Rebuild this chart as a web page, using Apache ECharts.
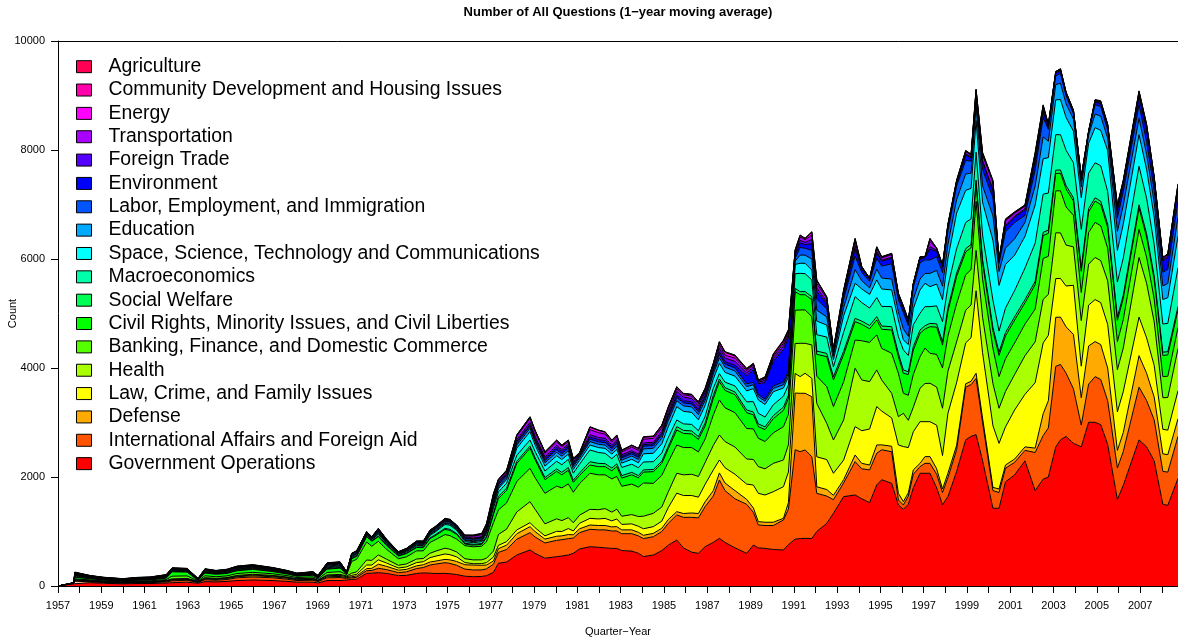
<!DOCTYPE html>
<html><head><meta charset="utf-8">
<script src="https://cdn.jsdelivr.net/npm/echarts@6/dist/echarts.min.js"></script>
<style>html,body{margin:0;padding:0;background:#fff}#c{width:1178px;height:641px}</style>
</head><body><div id="c"></div>
<script>
// Quarter-year positions (decimal years)
const years = [
1957.00,1957.72,1957.78,1958.50,1959.10,1960.00,1960.65,1961.25,1962.00,1962.27,1962.96,1963.47,1963.79,1964.30,1964.81,1965.27,1966.00,1966.93,1967.58,1968.04,1968.78,1969.01,1969.43,1970.03,
1970.34,1970.57,1970.80,1971.26,1971.50,1971.80,1972.19,1972.73,1973.10,1973.57,1973.88,1974.19,1974.42,1974.88,1975.11,1975.42,1975.80,1976.19,1976.58,1976.80,1977.12,
1977.35,1977.73,1978.20,1978.81,1979.04,1979.50,1980.04,1980.28,1980.58,1980.81,1981.10,1981.58,1981.97,1982.28,1982.59,1982.82,1983.05,1983.51,1983.82,1984.05,1984.51,1984.90,1985.20,
1985.59,1985.90,1986.28,1986.59,1986.90,1987.28,1987.56,1987.82,1988.28,1988.82,1989.13,1989.36,1989.67,1990.05,1990.52,1990.75,1991.06,
1991.29,1991.52,1991.83,1992.06,1992.52,1992.83,1993.30,1993.83,1994.14,1994.50,1994.83,1995.06,1995.52,1995.83,1996.06,1996.29,1996.52,1996.83,1997.06,1997.29,1997.60,1997.87,1998.12,1998.52,
1998.94,1999.19,1999.42,1999.72,2000.20,2000.48,2000.78,2001.20,2001.68,2002.15,2002.52,2002.76,2003.10,2003.32,2003.58,
2003.92,2004.28,2004.62,2004.92,2005.18,2005.50,2005.95,2006.22,2006.95,2007.30,2007.65,2008.05,2008.28,2008.75];

const governmentOperations = [
0,40,70,60,50,40,45,45,55,60,70,50,80,75,85,100,110,100,85,70,70,55,100,100,
110,120,125,232,235,245,230,190,195,230,240,235,230,232,225,210,180,171,175,190,250,
416,440,569,661,600,510,538,550,569,600,680,721,710,700,690,690,650,640,600,540,569,650,750,
844,700,620,600,722,800,875,800,700,600,752,700,690,670,661,760,860,
870,875,870,1000,1150,1334,1640,1670,1600,1530,1853,1950,1884,1487,1407,1500,1800,2068,2068,2068,1800,1492,1640,2100,
2681,2745,2778,2300,1426,1426,1910,2039,2296,1750,1960,2000,2550,2681,2745,
2617,2553,3004,3004,2960,2600,1587,1844,2681,2553,2296,1500,1480,1974];
const internationalAffairs = [
0,10,20,15,15,12,15,15,20,35,35,15,35,30,35,50,55,50,40,30,35,25,50,55,
30,30,35,49,50,80,70,55,65,90,100,150,170,196,190,170,130,123,120,125,150,
200,230,290,318,300,280,300,300,300,280,300,319,320,330,320,320,310,320,320,330,336,350,400,
460,560,640,650,734,850,1070,950,900,900,600,420,420,440,550,650,1640,
1595,1621,1504,700,500,250,250,612,550,600,582,550,580,91,80,150,250,122,183,183,250,224,350,400,
967,950,1030,700,323,290,250,230,192,700,800,900,1480,1385,1160,
1000,400,700,837,830,800,580,620,967,850,750,603,610,771];
const defense = [
0,2,10,10,8,8,8,10,12,15,15,8,15,15,15,20,22,20,18,15,15,12,20,20,
15,20,25,38,40,75,60,45,45,50,50,55,55,60,65,70,80,90,85,70,60,
70,80,100,110,100,70,75,70,75,60,70,79,80,80,75,80,70,70,65,60,61,60,70,
60,70,80,80,90,100,130,140,150,90,80,60,60,60,31,120,1040,
1071,1040,1100,120,120,80,60,122,100,90,153,90,100,122,61,60,80,60,123,123,100,64,80,80,
62,62,97,80,60,64,60,60,65,80,400,500,900,868,850,
1000,501,700,644,640,600,321,350,578,500,420,321,320,323];
const lawCrime = [
0,1,8,7,6,5,7,7,8,10,10,6,12,10,10,12,14,12,12,10,12,8,18,20,
15,25,30,66,60,80,60,40,45,60,55,80,90,100,95,85,40,25,30,45,70,
60,65,70,73,70,60,90,80,110,70,100,123,120,130,110,140,100,110,110,120,123,130,220,
340,330,320,300,320,380,237,280,300,280,420,520,500,560,580,560,360,
306,367,337,550,550,404,360,520,600,660,703,620,520,888,1010,830,700,765,641,641,800,613,1100,1150,
750,800,1512,1200,1131,837,700,900,965,1200,1300,1200,710,709,750,
900,579,750,771,770,800,709,750,708,650,580,451,450,514];
const health = [
0,1,8,7,6,5,6,7,8,10,10,5,10,10,10,12,14,12,10,10,10,8,15,18,
15,40,45,92,85,90,70,50,55,65,60,80,90,105,100,90,70,70,70,80,110,
200,230,330,385,340,220,230,200,200,150,150,165,170,180,160,180,150,170,180,230,245,260,290,
364,380,390,380,400,450,459,480,500,460,470,490,480,520,490,500,550,
611,550,612,980,665,611,736,1071,930,870,673,570,452,519,611,500,450,613,700,705,700,868,770,750,
600,600,740,650,772,644,650,650,708,750,800,750,840,836,750,
705,837,750,772,770,800,772,800,1094,1000,800,579,600,773];
const bankingFinance = [
0,1,15,12,10,8,10,10,15,50,45,10,35,30,30,35,35,30,25,20,25,18,45,50,
25,215,230,330,260,250,180,120,130,150,140,200,210,250,250,235,240,240,250,300,520,
450,480,560,612,580,560,600,600,620,560,580,661,640,620,610,600,550,560,540,610,550,580,550,
519,500,490,450,430,560,642,620,630,560,560,520,500,560,611,560,610,
612,612,520,500,673,612,700,519,720,720,642,580,734,796,367,460,600,580,650,550,600,740,650,700,
650,650,902,700,643,580,600,580,580,600,750,700,770,773,700,
579,516,580,644,640,600,516,520,516,480,420,387,390,386];
const civilRights = [
0,1,30,20,15,12,15,17,25,80,70,10,50,45,45,50,55,40,30,25,30,20,60,65,
10,50,53,98,90,85,70,50,60,60,60,70,75,95,95,85,30,30,35,80,150,
210,230,330,368,330,250,270,240,250,180,150,152,150,150,150,180,150,170,170,200,214,220,240,
276,260,250,230,240,300,336,320,330,290,260,213,220,260,300,290,340,
280,280,310,400,550,490,500,337,300,250,275,350,428,305,368,380,450,429,350,488,500,420,450,500,
420,400,326,300,326,389,420,420,390,450,420,420,320,321,330,
262,389,380,391,390,380,389,390,390,370,360,389,390,326];
const socialWelfare = [
0,0,10,8,6,5,6,6,8,10,9,4,10,9,9,10,10,9,8,7,8,6,12,12,
5,10,10,12,10,15,12,10,10,12,12,15,18,20,20,18,15,15,15,20,30,
40,40,40,40,40,40,45,45,50,40,45,60,60,55,50,50,45,45,40,40,40,40,45,
60,55,55,50,55,60,50,50,50,50,50,50,50,55,60,60,60,
56,56,57,60,60,60,60,60,60,60,60,60,60,60,60,50,60,60,60,60,60,60,60,60,
60,60,60,60,60,60,60,60,60,60,60,60,60,60,60,
60,60,60,60,60,60,60,60,60,60,60,60,60,60];
const macroeconomics = [
0,0,15,10,8,7,8,8,10,12,10,5,12,10,11,12,12,10,9,8,9,7,15,15,
8,20,22,22,20,30,25,18,20,25,25,45,50,70,75,60,30,30,35,50,90,
80,90,110,112,110,120,140,140,150,130,160,216,200,190,170,175,150,150,145,145,143,150,160,
123,120,120,110,120,130,97,100,110,150,190,195,180,200,200,190,270,
336,330,305,300,300,180,350,399,340,320,350,360,368,308,368,300,400,307,351,308,330,370,400,450,
480,470,515,450,500,387,450,480,579,700,700,680,650,648,650,
643,709,650,643,650,600,644,680,708,650,580,516,520,708];
const spaceScience = [
0,1,10,8,7,6,7,7,8,8,8,5,10,9,10,10,10,9,8,7,8,6,15,15,
6,15,15,12,12,15,12,10,12,15,15,18,18,20,20,18,20,20,22,30,50,
60,70,130,153,120,90,100,95,95,70,70,91,90,90,85,90,80,90,90,150,154,170,200,
244,230,220,200,200,170,191,180,180,200,240,245,230,240,150,150,170,
184,190,183,250,220,130,300,244,250,250,324,320,306,306,184,200,300,428,428,367,400,400,515,650,
589,560,579,600,1100,837,800,650,580,700,650,650,640,644,600,
580,579,550,644,650,750,579,620,579,530,500,450,470,580];
const education = [
0,1,10,7,6,5,6,7,8,8,8,4,10,9,10,10,10,9,8,7,8,6,15,15,
6,15,15,10,10,15,12,10,12,12,12,14,15,15,15,14,15,15,15,20,30,
30,35,55,60,55,60,65,60,65,50,45,62,60,60,55,60,55,60,60,90,92,100,110,
110,100,100,95,90,90,100,95,95,80,70,60,60,60,60,60,60,
150,150,200,200,150,70,150,250,150,120,200,200,200,150,200,150,170,200,180,244,250,250,250,250,
300,280,257,300,450,257,300,300,257,350,400,300,280,300,250,
220,200,150,250,260,230,350,350,300,280,270,250,260,350];
const laborEmployment = [
0,1,10,8,7,6,7,8,10,10,10,5,12,10,12,14,14,12,10,9,10,8,18,18,
8,20,20,15,14,20,18,12,15,18,18,22,22,25,25,22,25,25,27,35,50,
40,40,40,40,40,40,45,45,45,35,30,45,45,45,45,45,40,40,40,50,50,55,60,
60,55,55,55,55,55,60,55,55,50,45,40,40,45,50,50,50,
140,125,160,200,150,60,150,250,150,120,200,220,280,220,300,200,220,300,250,245,250,250,250,250,
250,220,129,300,330,150,300,300,129,300,350,220,160,180,150,
100,120,50,170,180,150,250,250,250,230,220,250,260,300];
const environment = [
0,0,5,4,3,3,3,3,4,4,4,2,4,4,4,5,5,4,4,3,4,3,8,8,
3,5,5,6,6,8,7,4,5,7,7,8,9,10,10,10,12,12,12,15,25,
25,25,30,30,30,35,40,40,40,30,25,40,40,40,35,35,30,30,30,30,30,35,40,
40,40,40,40,40,40,50,45,50,150,230,200,300,450,600,600,60,
80,70,120,150,90,30,80,130,60,40,90,90,100,70,80,70,50,70,40,200,100,100,80,50,
100,60,100,150,130,40,100,100,100,150,120,50,50,50,30,
30,40,10,50,50,60,140,120,150,216,200,200,220,200];
const foreignTrade = [
0,0,10,5,4,3,4,4,5,6,5,3,6,5,6,6,7,6,5,4,5,4,10,10,
3,5,5,6,5,10,8,5,7,10,10,10,10,10,10,10,15,15,15,25,30,
25,25,35,40,35,35,40,35,35,25,15,40,40,40,35,35,30,30,30,30,30,40,50,
70,65,60,60,60,50,70,65,70,50,50,30,40,50,60,60,40,
50,40,80,60,40,15,30,60,20,10,30,20,20,15,10,10,8,10,5,40,20,15,15,15,
20,15,20,20,20,10,20,20,20,30,30,15,10,12,10,
10,8,4,10,10,10,25,20,25,25,20,25,25,40];
const transportation = [
0,0,10,5,4,4,5,5,5,7,6,3,7,6,7,8,8,7,6,5,6,4,10,10,
4,5,6,5,5,22,12,6,8,12,12,13,14,15,15,12,20,32,38,35,50,
34,30,62,75,83,65,66,57,45,35,17,94,88,77,54,56,51,62,67,70,70,64,65,
50,45,45,45,40,40,60,55,60,40,40,20,30,40,50,50,30,
60,50,80,80,60,15,40,80,20,5,60,40,50,20,20,15,10,20,8,100,30,20,20,20,
40,30,40,100,130,15,80,50,50,80,50,15,10,12,10,
10,10,4,15,15,20,45,45,40,40,20,30,30,40];
const energy = [
0,0,5,2,2,2,2,2,3,3,3,2,3,3,3,4,4,3,3,2,3,2,5,5,
0,2,3,2,1,8,5,2,3,5,5,6,6,8,8,5,6,10,10,12,15,
10,10,15,20,20,20,25,20,20,18,5,45,40,35,25,25,25,30,30,35,35,40,30,
30,20,25,25,25,8,50,50,40,25,20,10,20,30,40,30,20,
30,20,50,50,20,5,15,40,5,3,20,15,15,10,8,3,3,5,3,40,5,5,5,10,
10,10,15,20,20,5,15,12,10,25,20,6,8,8,10,
10,4,2,10,10,8,12,10,20,20,8,10,10,20];
const communityDevelopment = [
0,0,5,2,2,2,2,2,3,3,3,2,3,3,3,4,4,3,3,2,3,2,5,5,
0,1,2,1,1,7,3,1,2,2,2,4,4,5,3,3,4,8,8,10,10,
5,5,5,5,5,5,5,5,5,5,3,5,5,5,5,5,5,5,5,5,5,5,5,
5,4,5,5,5,2,4,7,10,10,5,5,10,10,10,10,5,
5,2,7,10,6,2,5,10,2,1,6,4,4,2,3,2,2,3,2,10,3,3,3,5,
8,8,10,15,12,5,12,8,7,20,10,4,1,2,5,
3,2,1,5,10,4,8,8,10,15,3,4,3,8];
const agriculture = [
0,0,5,2,2,2,2,2,2,3,3,2,3,3,3,3,3,3,2,2,3,2,5,5,
0,2,2,1,1,3,3,2,2,3,3,3,3,6,2,2,4,5,5,8,10,
5,4,5,5,5,5,5,5,5,5,5,5,5,5,5,5,5,5,5,5,5,5,5,
2,2,2,7,2,2,2,8,9,10,5,2,11,10,11,8,5,
5,2,7,5,5,2,4,6,2,1,6,4,4,2,3,1,1,3,3,8,2,2,2,5,
5,7,8,15,12,4,10,7,6,15,9,4,1,2,4,
3,2,1,5,10,2,7,8,10,5,2,3,2,7];

// Stack order: bottom to top
const topicNames = [
'Government Operations','International Affairs and Foreign Aid','Defense','Law, Crime, and Family Issues',
'Health','Banking, Finance, and Domestic Commerce','Civil Rights, Minority Issues, and Civil Liberties',
'Social Welfare','Macroeconomics','Space, Science, Technology and Communications','Education',
'Labor, Employment, and Immigration','Environment','Foreign Trade','Transportation','Energy',
'Community Development and Housing Issues','Agriculture'];
const topicColors = ['#FF0000','#FF5500','#FFAA00','#FFFF00','#AAFF00','#55FF00','#00FF00','#00FF55','#00FFAA',
'#00FFFF','#00AAFF','#0055FF','#0000FF','#5500FF','#AA00FF','#FF00FF','#FF00AA','#FF0055'];
const topicValues = [governmentOperations, internationalAffairs, defense, lawCrime, health, bankingFinance,
civilRights, socialWelfare, macroeconomics, spaceScience, education, laborEmployment, environment,
foreignTrade, transportation, energy, communityDevelopment, agriculture];

const FONT = '"Liberation Sans", Arial, Helvetica, sans-serif';
const chart = echarts.init(document.getElementById('c'), null, {renderer: 'canvas'});

// data rows are [value, year]; encode maps them so the value column is the stacked one
const series = topicNames.map((name, i) => ({
  name: name, type: 'line', stack: 'all', symbol: 'none', showSymbol: false,
  silent: true, animation: false,
  data: years.map((y, j) => [topicValues[i][j], y]),
  encode: {x: 1, y: 0},
  lineStyle: {color: '#000', width: 1},
  areaStyle: {color: topicColors[i], opacity: 1},
  emphasis: {disabled: true}
}));

const legendData = topicNames.map((n, i) => ({
  name: n,
  itemStyle: {color: topicColors[i], borderColor: '#000', borderWidth: 1}
})).reverse();

chart.setOption({
  animation: false,
  backgroundColor: '#fff',
  title: {
    text: 'Number of All Questions (1\u2212year moving average)',
    left: 618, top: 6, textAlign: 'center', padding: 0,
    textStyle: {fontFamily: FONT, fontSize: 13, fontWeight: 'bold', color: '#000'}
  },
  grid: {left: 58, right: 0, top: 41, bottom: 55, containLabel: false, outerBoundsMode: 'none'},
  legend: {
    orient: 'vertical', left: 76, top: 55, padding: 0, itemGap: 0,
    itemWidth: 15, itemHeight: 12, icon: 'rect', selectedMode: false,
    textStyle: {fontFamily: FONT, fontSize: 19.4, color: '#000', lineHeight: 23.35, padding: [0, 0, 0, 12]},
    data: legendData
  },
  xAxis: [{
    type: 'value', min: 1957, max: 2008.75, interval: 1,
    axisLine: {show: true, onZero: false, lineStyle: {color: '#000', width: 1}},
    axisTick: {show: true, length: 7, lineStyle: {color: '#000'}},
    axisLabel: {color: '#000', fontSize: 11, margin: 14, fontFamily: FONT,
      formatter: v => (Number.isInteger(v) && (v - 1957) % 2 === 0) ? String(v) : ''},
    splitLine: {show: false},
    name: 'Quarter\u2212Year', nameLocation: 'middle', nameGap: 40, nameMoveOverlap: false,
    nameTextStyle: {color: '#000', fontSize: 11, fontFamily: FONT}
  }, {
    type: 'value', position: 'top', min: 1957, max: 2008.75,
    axisLine: {show: true, onZero: false, lineStyle: {color: '#000', width: 1}},
    axisTick: {show: false}, axisLabel: {show: false}, splitLine: {show: false}
  }],
  yAxis: {
    type: 'value', min: 0, max: 10000, interval: 2000,
    axisLine: {show: true, lineStyle: {color: '#000', width: 1}},
    axisTick: {show: true, length: 7, lineStyle: {color: '#000'}},
    axisLabel: {color: '#000', fontSize: 11, margin: 13, fontFamily: FONT, formatter: v => String(v)},
    splitLine: {show: false},
    name: 'Count', nameLocation: 'middle', nameGap: 40, nameRotate: 90, nameMoveOverlap: false,
    nameTextStyle: {color: '#000', fontSize: 11, fontFamily: FONT}
  },
  series: series
});
</script>
</body></html>
